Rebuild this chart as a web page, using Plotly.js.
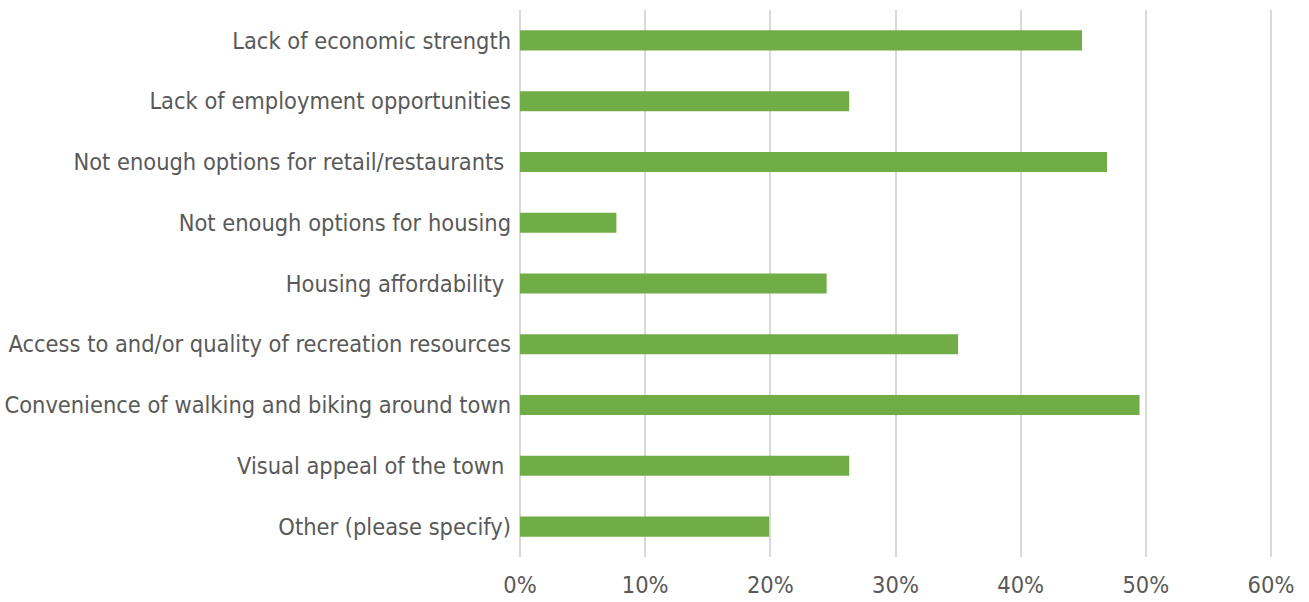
<!DOCTYPE html>
<html>
<head>
<meta charset="utf-8">
<script src="https://cdn.plot.ly/plotly-3.0.1.min.js"></script>
<style>html,body{margin:0;padding:0;background:#fff;}#chart{width:1309px;height:602px;}</style>
</head>
<body>
<div id="chart"></div>
<script>
const categories = [
  "Lack of economic strength",
  "Lack of employment opportunities",
  "Not enough options for retail/restaurants\u00a0",
  "Not enough options for housing",
  "Housing affordability\u00a0",
  "Access to and/or quality of recreation resources",
  "Convenience of walking and biking around town",
  "Visual appeal of the town\u00a0",
  "Other (please specify)"
];
const values = [0.449, 0.263, 0.469, 0.077, 0.245, 0.350, 0.495, 0.263, 0.199];
const tickValues = [0, 0.1, 0.2, 0.3, 0.4, 0.5, 0.6];
const tickLabels = ["0%", "10%", "20%", "30%", "40%", "50%", "60%"];

const fontFam = '"DejaVu Sans Condensed", "DejaVu Sans", sans-serif';
const gridColor = '#D9D9D9';

const edgeLines = [tickValues[0], tickValues[tickValues.length - 1]].map(v => ({
  type: 'line', xref: 'x', yref: 'paper', x0: v, x1: v, y0: 0, y1: 1,
  line: {color: gridColor, width: 2}, layer: 'below'
}));

Plotly.newPlot('chart', [{
  type: 'bar',
  orientation: 'h',
  x: values,
  y: categories,
  width: 0.33,
  marker: {color: '#70AD47'},
  hoverinfo: 'x+y'
}], {
  width: 1309,
  height: 602,
  margin: {l: 519, r: 37, t: 10, b: 45, pad: 0},
  paper_bgcolor: '#ffffff',
  plot_bgcolor: '#ffffff',
  showlegend: false,
  font: {family: fontFam, size: 23.4, color: '#595959'},
  shapes: edgeLines,
  xaxis: {
    range: [-0.0008, 0.6008],
    tickvals: tickValues,
    ticktext: tickLabels,
    showgrid: true,
    gridcolor: gridColor,
    gridwidth: 2,
    zeroline: false,
    showline: false,
    ticks: '',
    ticklabelstandoff: 12,
    tickfont: {family: fontFam, size: 23.4, color: '#595959'},
    fixedrange: true
  },
  yaxis: {
    autorange: 'reversed',
    type: 'category',
    showgrid: false,
    zeroline: false,
    showline: false,
    ticks: '',
    ticklabelstandoff: 7,
    tickfont: {family: fontFam, size: 23.4, color: '#595959'},
    fixedrange: true
  }
}, {displayModeBar: false, staticPlot: true});
</script>
</body>
</html>
